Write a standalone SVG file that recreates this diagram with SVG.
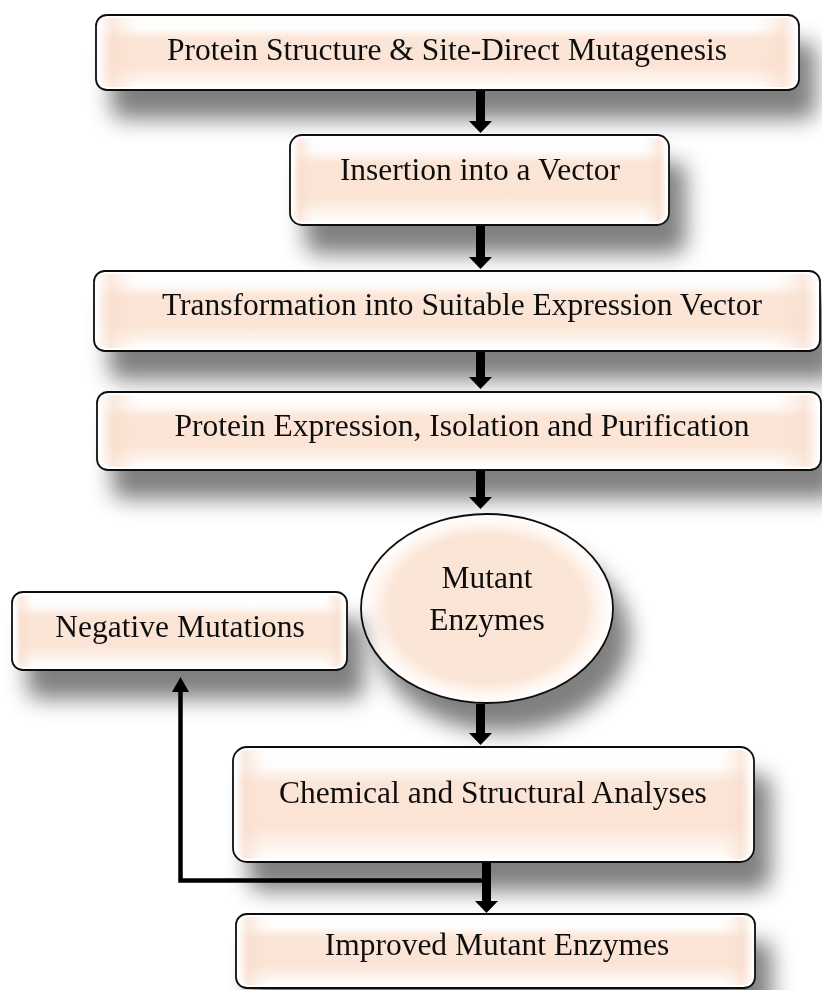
<svg xmlns="http://www.w3.org/2000/svg" width="822" height="990" viewBox="0 0 822 990">
  <style>
    .box { fill: #ffffff; stroke: #111111; stroke-width: 1.8; }
    .inner { fill: url(#peachV); stroke: none; }
    .label { font-family: "Liberation Serif", "Times New Roman", serif; font-size: 31.5px; fill: #111111; text-anchor: middle; }
    .thick { stroke: #000000; stroke-width: 9; fill: none; marker-end: url(#headBig); }
    .thin { stroke: #000000; stroke-width: 4.5; fill: none; marker-end: url(#headSmall); }
  </style>
  <defs>
    <filter id="shadow" x="-10%" y="-30%" width="130%" height="220%">
      <feGaussianBlur in="SourceAlpha" stdDeviation="11"/>
      <feOffset dx="16" dy="28" result="b"/>
      <feFlood flood-color="#000000" flood-opacity="0.5"/>
      <feComposite in2="b" operator="in"/>
      <feMerge>
        <feMergeNode/>
        <feMergeNode in="SourceGraphic"/>
      </feMerge>
    </filter>
    <linearGradient id="peachV" x1="0" y1="0" x2="0" y2="1">
      <stop offset="0" stop-color="#ffffff"/>
      <stop offset="0.15" stop-color="#fffdfb"/>
      <stop offset="0.3" stop-color="#fbe5d7"/>
      <stop offset="0.7" stop-color="#fbe4d6"/>
      <stop offset="0.85" stop-color="#fdf1e8"/>
      <stop offset="1" stop-color="#ffffff"/>
    </linearGradient>
    <linearGradient id="peachH" x1="0" y1="0" x2="1" y2="0">
      <stop offset="0" stop-color="#ffffff" stop-opacity="0.9"/>
      <stop offset="0.02" stop-color="#f8dccb" stop-opacity="0.6"/>
      <stop offset="0.06" stop-color="#fbe5d7" stop-opacity="0"/>
      <stop offset="0.94" stop-color="#fbe5d7" stop-opacity="0"/>
      <stop offset="0.98" stop-color="#f8dccb" stop-opacity="0.6"/>
      <stop offset="1" stop-color="#ffffff" stop-opacity="0.9"/>
    </linearGradient>
    <radialGradient id="peachR" cx="0.5" cy="0.5" r="0.5">
      <stop offset="0" stop-color="#fbe4d6"/>
      <stop offset="0.78" stop-color="#fbe5d7"/>
      <stop offset="0.9" stop-color="#fff6f0"/>
      <stop offset="1" stop-color="#ffffff"/>
    </radialGradient>
    <marker id="headBig" markerUnits="userSpaceOnUse" viewBox="0 0 12 23" markerWidth="12" markerHeight="23" refX="0" refY="11.5" orient="auto">
      <path d="M0,0 L12,11.5 L0,23 Z" fill="#000000"/>
    </marker>
    <marker id="headSmall" markerUnits="userSpaceOnUse" viewBox="0 0 15 17" markerWidth="15" markerHeight="17" refX="0" refY="8.5" orient="auto">
      <path d="M0,0 L15,8.5 L0,17 Z" fill="#000000"/>
    </marker>
  </defs>

  <g id="node-protein-structure" filter="url(#shadow)">
    <rect class="box" x="96" y="15" width="703" height="75" rx="11"/>
    <rect class="inner" x="99" y="18" width="697" height="69" rx="9"/>
    <rect x="99" y="18" width="697" height="69" rx="9" fill="url(#peachH)"/>
    <text class="label" x="447" y="60">Protein Structure &amp; Site-Direct Mutagenesis</text>
  </g>

  <g id="node-insertion" filter="url(#shadow)">
    <rect class="box" x="290" y="135" width="379" height="90" rx="12"/>
    <rect class="inner" x="293" y="138" width="373" height="84" rx="10"/>
    <rect x="293" y="138" width="373" height="84" rx="10" fill="url(#peachH)"/>
    <text class="label" x="480" y="180">Insertion into a Vector</text>
  </g>

  <g id="node-transformation" filter="url(#shadow)">
    <rect class="box" x="94" y="271" width="726" height="80" rx="11"/>
    <rect class="inner" x="97" y="274" width="720" height="74" rx="9"/>
    <rect x="97" y="274" width="720" height="74" rx="9" fill="url(#peachH)"/>
    <text class="label" x="462" y="315">Transformation into Suitable Expression Vector</text>
  </g>

  <g id="node-expression" filter="url(#shadow)">
    <rect class="box" x="97" y="392" width="724" height="78" rx="11"/>
    <rect class="inner" x="100" y="395" width="718" height="72" rx="9"/>
    <rect x="100" y="395" width="718" height="72" rx="9" fill="url(#peachH)"/>
    <text class="label" x="462" y="436">Protein Expression, Isolation and Purification</text>
  </g>

  <g id="node-mutant-enzymes" filter="url(#shadow)">
    <ellipse cx="487" cy="608.5" rx="126" ry="94.5" fill="url(#peachR)" stroke="#111111" stroke-width="1.8"/>
    <text class="label" x="487" y="588">Mutant</text>
    <text class="label" x="487" y="630">Enzymes</text>
  </g>

  <g id="node-negative" filter="url(#shadow)">
    <rect class="box" x="12" y="592" width="335" height="78" rx="11"/>
    <rect class="inner" x="15" y="595" width="329" height="72" rx="9"/>
    <rect x="15" y="595" width="329" height="72" rx="9" fill="url(#peachH)"/>
    <text class="label" x="180" y="637">Negative Mutations</text>
  </g>

  <g id="node-chemical" filter="url(#shadow)">
    <rect class="box" x="233" y="747" width="521" height="115" rx="14"/>
    <rect class="inner" x="236" y="750" width="515" height="109" rx="12"/>
    <rect x="236" y="750" width="515" height="109" rx="12" fill="url(#peachH)"/>
    <text class="label" x="493" y="803">Chemical and Structural Analyses</text>
  </g>

  <g id="node-improved" filter="url(#shadow)">
    <rect class="box" x="236" y="914" width="519" height="74" rx="11"/>
    <rect class="inner" x="239" y="917" width="513" height="68" rx="9"/>
    <rect x="239" y="917" width="513" height="68" rx="9" fill="url(#peachH)"/>
    <text class="label" x="497" y="955">Improved Mutant Enzymes</text>
  </g>

  <g id="connectors">
    <line class="thick" x1="480.5" y1="91" x2="480.5" y2="121"/>
    <line class="thick" x1="480.5" y1="226" x2="480.5" y2="257"/>
    <line class="thick" x1="480.5" y1="352" x2="480.5" y2="377"/>
    <line class="thick" x1="480.5" y1="471" x2="480.5" y2="497"/>
    <line class="thick" x1="480.5" y1="704" x2="480.5" y2="733"/>
    <line class="thick" x1="486.5" y1="863" x2="486.5" y2="901"/>
    <polyline class="thin" points="484,880.5 180.5,880.5 180.5,692"/>
  </g>
</svg>
